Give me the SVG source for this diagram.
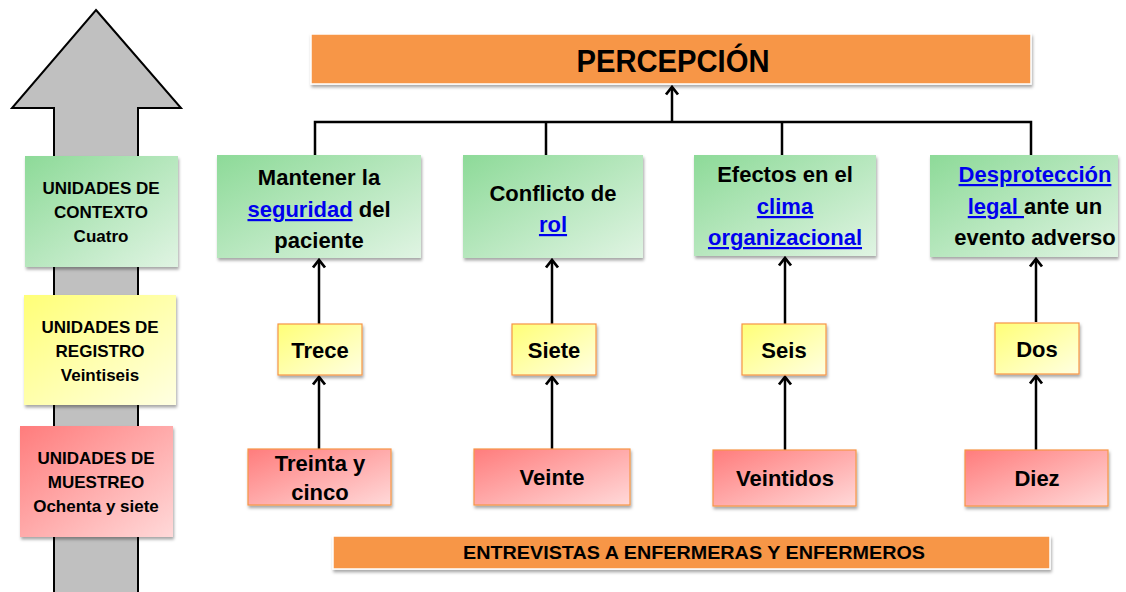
<svg xmlns="http://www.w3.org/2000/svg" width="1126" height="592" viewBox="0 0 1126 592">
<style>
text{font-family:"Liberation Sans",Arial,sans-serif;font-weight:bold;fill:#000;text-anchor:middle}
.t20{font-size:22px}
.t15{font-size:17px}
.lk{fill:#0000ee;text-decoration:underline}
.green{fill:url(#gG);filter:url(#sh)}
.yel{fill:url(#gY);stroke:#f79646;stroke-width:1.2;filter:url(#sh)}
.red{fill:url(#gR);stroke:#f79646;stroke-width:1.2;filter:url(#sh)}
.org{fill:#f79646;stroke:#fff;stroke-width:1.5;filter:url(#sh)}
.ln{stroke:#000;stroke-width:2.5;fill:none}
</style>
<defs>
<linearGradient id="gG" x1="0" y1="0" x2="1" y2="1"><stop offset="0" stop-color="#8dda98"/><stop offset="1" stop-color="#e0f4e3"/></linearGradient>
<linearGradient id="gY" x1="0" y1="0" x2="1" y2="1"><stop offset="0" stop-color="#ffff77"/><stop offset="1" stop-color="#ffffe2"/></linearGradient>
<linearGradient id="gR" x1="0" y1="0" x2="1" y2="1"><stop offset="0" stop-color="#ff7c7c"/><stop offset="1" stop-color="#ffd9d9"/></linearGradient>
<filter id="sh" x="-10%" y="-10%" width="130%" height="140%"><feDropShadow dx="1" dy="2.5" stdDeviation="1.5" flood-color="#000" flood-opacity="0.35"/></filter>
<marker id="ah" viewBox="0 0 16 16" refX="12" refY="8" markerWidth="16" markerHeight="16" markerUnits="userSpaceOnUse" orient="auto">
<path d="M4.5 2 L12 8 L4.5 14" fill="none" stroke="#000" stroke-width="2.8" stroke-linejoin="miter"/>
</marker>
</defs>
<rect width="1126" height="592" fill="#fff"/>
<g id="bigArrow">
<path d="M96 10 L181 108 L138 108 L138 600 L54 600 L54 108 L12 108 Z" fill="#c0c0c0" stroke="#000" stroke-width="2"/>
</g>
<g id="ctx">
<rect x="25" y="156" width="153" height="111" class="green"/>
<text class="t15" x="101" y="194">UNIDADES  DE</text>
<text class="t15" x="101" y="218">CONTEXTO</text>
<text class="t15" x="101" y="242">Cuatro</text>
</g>
<g id="reg">
<rect x="24" y="295" width="152" height="110" class="green" style="fill:url(#gY)"/>
<text class="t15" x="100" y="333">UNIDADES  DE</text>
<text class="t15" x="100" y="357">REGISTRO</text>
<text class="t15" x="100" y="381">Veintiseis</text>
</g>
<g id="mue">
<rect x="20" y="426" width="153" height="111" class="green" style="fill:url(#gR)"/>
<text class="t15" x="96" y="464">UNIDADES  DE</text>
<text class="t15" x="96" y="488">MUESTREO</text>
<text class="t15" x="96" y="512">Ochenta y siete</text>
</g>
<g id="connectors">
<path class="ln" d="M315 156 V122 H1031 V156 M546 122 V156 M782 122 V156"/>
<path class="ln" d="M672 122 V87" marker-end="url(#ah)"/>
<path class="ln" d="M319 324 V260" marker-end="url(#ah)"/>
<path class="ln" d="M552 324 V260" marker-end="url(#ah)"/>
<path class="ln" d="M785 324 V258" marker-end="url(#ah)"/>
<path class="ln" d="M1036 322 V259" marker-end="url(#ah)"/>
<path class="ln" d="M319 449 V377" marker-end="url(#ah)"/>
<path class="ln" d="M552 449 V377" marker-end="url(#ah)"/>
<path class="ln" d="M785 450 V377" marker-end="url(#ah)"/>
<path class="ln" d="M1036 450 V376" marker-end="url(#ah)"/>
</g>
<g id="percepcion">
<rect x="311" y="34" width="720" height="50" class="org"/>
<text x="673" y="72" style="font-size:32px" textLength="193" lengthAdjust="spacingAndGlyphs">PERCEPCIÓN</text>
</g>
<g id="g1">
<rect x="217" y="155" width="204" height="103" class="green"/>
<text class="t20" x="319" y="185">Mantener la</text>
<text class="t20" x="319" y="217"><tspan class="lk">seguridad</tspan> del</text>
<text class="t20" x="319" y="248">paciente</text>
</g>
<g id="g2">
<rect x="463" y="155" width="180" height="103" class="green"/>
<text class="t20" x="553" y="201">Conflicto de</text>
<text class="t20" x="553" y="232"><tspan class="lk">rol</tspan></text>
</g>
<g id="g3">
<rect x="694" y="155" width="182" height="101" class="green"/>
<text class="t20" x="785" y="182">Efectos en el</text>
<text class="t20" x="785" y="214"><tspan class="lk">clima</tspan></text>
<text class="t20" x="785" y="245"><tspan class="lk">organizacional</tspan></text>
</g>
<g id="g4">
<rect x="930" y="155" width="188" height="102" class="green"/>
<text class="t20" x="1035" y="182"><tspan class="lk">Desprotección</tspan></text>
<text class="t20" x="1035" y="214"><tspan class="lk">legal </tspan>ante un</text>
<text class="t20" x="1035" y="245">evento adverso</text>
</g>
<g id="y1"><rect x="278" y="324" width="84" height="51" class="yel"/><text class="t20" x="320" y="358">Trece</text></g>
<g id="y2"><rect x="512" y="324" width="84" height="51" class="yel"/><text class="t20" x="554" y="358">Siete</text></g>
<g id="y3"><rect x="742" y="324" width="84" height="51" class="yel"/><text class="t20" x="784" y="358">Seis</text></g>
<g id="y4"><rect x="995" y="323" width="84" height="51" class="yel"/><text class="t20" x="1037" y="357">Dos</text></g>
<g id="r1"><rect x="248" y="449" width="143" height="56" class="red"/><text class="t20" x="320" y="471">Treinta y</text><text class="t20" x="320" y="500">cinco</text></g>
<g id="r2"><rect x="474" y="449" width="156" height="56" class="red"/><text class="t20" x="552" y="485">Veinte</text></g>
<g id="r3"><rect x="713" y="450" width="143" height="56" class="red"/><text class="t20" x="785" y="486">Veintidos</text></g>
<g id="r4"><rect x="965" y="450" width="143" height="56" class="red"/><text class="t20" x="1037" y="486">Diez</text></g>
<g id="entrevistas">
<rect x="333" y="536" width="717" height="33" class="org"/>
<text x="694" y="559" style="font-size:18px" textLength="462" lengthAdjust="spacingAndGlyphs">ENTREVISTAS A ENFERMERAS Y ENFERMEROS</text>
</g>
</svg>
